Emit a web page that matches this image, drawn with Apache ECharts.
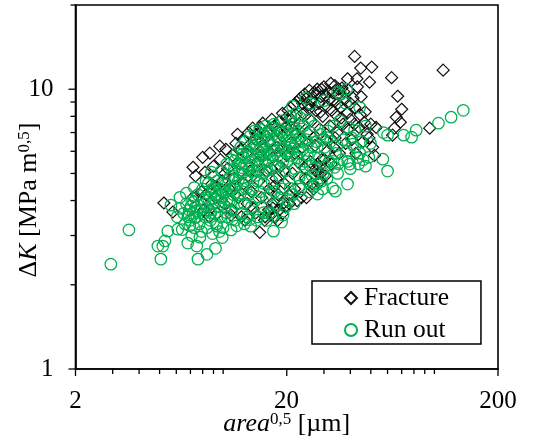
<!DOCTYPE html>
<html><head><meta charset="utf-8">
<script src="https://cdn.jsdelivr.net/npm/echarts@6/dist/echarts.min.js"></script>
<style>html,body{margin:0;padding:0;background:#fff}#c{width:538px;height:441px}</style>
</head><body><div id="c"></div>
<script>
const seriesNames = ['Fracture', 'Run out'];
const fractureOuter = [[41.9,13.1],[44.8,11.9],[50.5,12],[49.3,10.6],[62.7,11],[110,11.7],[67,9.44],[70,8.48],[66,7.94],[69,7.62],[64.7,7.26],[95,7.26],[63.4,6.85],[32.3,10.5],[38.8,10.9],[43,10.9],[27,9.75],[5.24,3.92],[5.78,3.64],[14.9,3.08],[7.2,5.26],[8.2,5.05],[8.84,4.58],[7.2,4.11],[18.1,3.4],[19.1,3.6],[17.2,3.76],[8,5.71],[8.65,5.91],[9.64,6.26],[11.7,6.9],[13.8,7.26],[15.4,7.56],[17,7.8],[19.1,8.2]];
const fractureInner = [
[7.4,4.9],[7.9,4.3],[8.1,3.7],[8.6,3.5],[9,5.3],[9.2,4.1],[9.4,3.6],[9.7,5.6],[9.9,4.7],[10.1,3.9],[10.3,6.1],[10.5,5.2],[10.7,4.4],[11,3.7],[11.1,5.8],[11.3,4.8],[11.5,6.4],[11.8,4.1],[12,5.4],[12.2,3.5],[12.4,6.6],[12.5,4.6],[12.8,5.9],[13,3.9],[13.2,7],[13.4,5.1],[13.6,4.3],[14,6.3],[14.2,3.6],[14.4,6.9],[14.6,5.5],[14.8,4.7],[15,7.3],[15.2,4.1],[15.5,6.1],[15.7,3.4],[16,5.1],[16.2,7],[16.5,4.4],[16.7,6.5],[17,3.9],[17.2,5.7],[17.5,7.4],[17.8,4.8],[18,6.2],[18.2,4.2],[18.5,7.7],[18.7,5.3],[19,6.8],[19.2,3.9],[19.5,4.6],[19.8,7.3],[20,5.8],[20.3,8.4],[20.5,4.2],[20.8,6.4],[21,7.8],[21.3,5],[21.6,8.8],[21.8,4.4],[22,6.9],[22.3,9],[22.6,5.5],[22.9,7.5],[23.2,9.3],[23.5,4.1],[23.7,6.2],[24,8.2],[24.3,9.6],[24.6,4.8],[25,7],[25.3,8.8],[25.6,9.9],[25.9,5.5],[26.2,7.7],[26.5,9.2],[26.8,4.4],[27.2,6.3],[27.5,8.4],[27.9,10],[28.2,5],[28.5,5.3],[28.7,7.2],[29,9.4],[29.3,5.6],[29.6,8],[30,10.2],[30.4,4.9],[30.7,6.6],[31,8.7],[31.5,9.8],[32,7.4],[32.5,5.4],[33,9.1],[33.4,6.2],[33.8,10.3],[34.2,8.1],[34.6,7],[35,9.6],[35.5,5.9],[36,8.6],[36.5,10.1],[37,7.5],[37.6,9.2],[38,6.4],[38.6,8.2],[39.2,9.9],[40,7.8],[40.6,6.6],[41.2,9.3],[42,8.6],[42.5,5.9],[43.2,10.2],[44,7.3],[45,9.4],[46,6.5],[47,8.3],[48,6.9],[49,6.7],[50,7.5],[51,6.2],[52,5.8],[53,7.3],[29,5],[28,5.4],[27.6,5.1],[30.2,5.6],[28.8,4.7],[15.8,3.5],[16.4,3.7],[17.7,3.5],[18.4,3.7],[19.7,3.8],[20.6,3.9],[22.4,4],[24.8,4.1],[26.4,4.6],[10.9,3.55],[12.7,3.4],[13.9,3.75]];
const fractureExtra = [[26.1,9.1],[28.4,8.9],[24.9,9.3],[33.1,9.7],[29.2,10],[31.8,9.2],[27.4,9.6],[35.2,10],[30.6,9.5],[23.8,8.9],[34.9,8.9],[37.2,9.8],[25.5,8.5],[32.6,8.4],[28.9,8.3],[22.1,8.1],[20.9,7.3],[18.9,6.1],[16.9,5.2],[15.1,5.8],[13.1,4.9],[11.4,4.2],[24.4,5.2],[21.9,5.9],[19.4,5.1],[17.4,4.5],[26.7,6.7],[23.1,6.6],[40.1,8.9],[44.6,8.1],[38.9,7.2],[46.6,7.6],[36.2,7.9],[41.8,7.5],[33.9,6.7],[31.1,6],[9.3,4.5],[10.2,5],[8.3,4.2],[12.1,6.1],[14.3,6.6],[16.1,6.8],[18.1,7.1],[19.9,7.9]];
const runOutOuter = [[137,8.41],[120,7.94],[104.5,7.56],[82,7.14],[78,6.74],[71.5,6.85],[60,6.85],[57.4,7],[57,5.62],[60,5.1],[38.8,4.58],[34,4.32],[28,4.22],[49.8,6.41],[47.2,7.38],[41.9,7.14],[44.3,8.62],[38,8.91],[34.8,9.75],[38.4,10],[24.6,9.29],[21.3,8.7],[41,6.36],[47.2,5.31],[43.8,5.4],[39.7,5.4],[48.9,5.71],[44.3,5.91],[33.7,5.26],[34.8,5],[29.2,4.69],[33,4.43],[2.94,2.37],[3.58,3.14],[5.07,2.47],[4.91,2.75],[5.18,2.75],[5.3,2.87],[5.47,3.11],[6.1,3.16],[6.8,2.82],[7.5,2.75],[7.6,2.47],[8.38,2.57],[9.2,2.7],[7.76,2.96],[6.24,4.11],[5.66,3.85],[10.9,3.14],[9.33,3.24],[13.5,3.24],[17.3,3.11],[14.4,3.4]];
const runOutInner = [
[6.5,3.6],[6.6,3.3],[6.7,3.9],[6.8,3.5],[6.9,3.7],[7,3.4],[7.1,4],[7.2,3.6],[7.3,3.2],[7.4,3.8],[7.5,3.5],[7.6,4.2],[7.7,3.3],[7.8,3.7],[7.9,3.1],[8,4.4],[8.1,3.9],[8.2,3.5],[8.3,4.1],[8.4,3.2],[8.5,4.6],[8.6,3.7],[8.7,3.4],[8.8,4.3],[8.9,3.9],[9,4.9],[9.1,3.6],[9.2,4.2],[9.3,3.3],[9.4,4.7],[9.5,3.8],[9.6,4.4],[9.7,3.5],[9.8,5.1],[9.9,4.1],[10,3.2],[10.1,4.6],[10.2,3.8],[10.3,4.3],[10.4,5.4],[10.5,3.5],[10.6,4.8],[10.7,4],[10.8,4.4],[10.9,5.6],[11,3.7],[11.1,4.9],[11.2,4.2],[11.3,5.2],[11.4,3.4],[11.5,4.5],[11.6,5.9],[11.7,3.9],[11.8,4.7],[11.9,5.4],[12,4.2],[12.1,6.2],[12.2,3.6],[12.3,5],[12.4,4.4],[12.5,5.7],[12.6,3.9],[12.7,6.5],[12.8,4.7],[12.9,5.3],[13,3.5],[13.1,6],[13.2,4.2],[13.3,5.5],[13.4,6.8],[13.5,4.9],[13.6,3.8],[13.7,5.8],[13.8,4.4],[13.9,6.3],[14,5.1],[14.1,7.1],[14.2,4],[14.3,5.6],[14.4,6.6],[14.5,4.7],[14.6,3.5],[14.7,6],[14.8,5.3],[14.9,7.2],[15,4.3],[15.1,5.8],[15.2,6.5],[15.3,3.8],[15.4,5],[15.5,6.9],[15.6,4.6],[15.7,6.2],[15.8,5.5],[15.9,7.4],[16,4.1],[16.2,5.9],[16.4,6.6],[16.5,3.6],[16.6,5.2],[16.8,7],[17,4.7],[17.1,6.3],[17.2,5.6],[17.4,7.5],[17.5,4.3],[17.7,6],[17.9,6.8],[18,3.9],[18.1,5.3],[18.3,7.2],[18.5,4.9],[18.6,6.4],[18.8,5.7],[19,7.7],[19.1,4.4],[19.3,6.1],[19.5,7],[19.6,5.1],[19.8,3.8],[20,6.6],[20.1,5.5],[20.3,7.4],[20.5,4.7],[20.7,6.2],[20.9,8],[21,5.8],[21.2,6.9],[21.4,4.2],[21.6,7.6],[21.8,5.2],[22,6.4],[22.2,8.2],[22.4,5.7],[22.6,7.1],[22.8,4.5],[23,6.7],[23.2,7.9],[23.5,5.4],[23.8,6.1],[24,7.4],[24.4,4.8],[24.7,6.6],[25,5.8],[25.3,7.8],[25.6,4.3],[25.9,7],[26.2,6.2],[26.8,5.2],[27.1,7.4],[27.5,6.5],[27.9,4.6],[28.6,5.7],[29,6.9],[29.8,5],[30.2,6.2],[31.2,7.1],[31.7,5.5],[32.2,6.5],[33.4,7.4],[34,5.9],[34.6,6.3],[35.8,7.7],[36.5,5.6],[37,6.6],[38.5,6],[39.2,7.3],[40,5.2],[42,6.2],[43,5.7],[45,6.5],[46,5.6],[26,8.9],[30,9.1],[36,9.6],[18.6,4.1],[20.4,4],[21.7,3.9],[23.3,4.4],[25.2,4.7],[27,4.5],[29.6,4.4],[31,4.8],[19.2,3.55],[16.1,3.4],[11.6,3.25],[12.6,3.3],[8.9,3.05],[9.9,2.95],[9.6,3.1],[7.1,3],[6.4,3.15],[6.05,3.5],[6.2,3.75],[6.7,4.25],[7.3,4.45],[8.3,4.7],[8.8,5.05],[18.9,3.35]];
const runOutExtra = [[6.9,3.55],[7.05,3.82],[7.35,3.48],[6.95,3.25],[7.55,3.68],[7.25,3.95],[8.05,3.58],[8.35,3.78],[8.55,4.02],[8.75,3.62],[9.05,4.08],[8.95,4.42],[9.45,4.18],[9.65,3.98],[9.85,4.32],[10.25,4.55],[10.45,4.02],[10.35,3.62],[10.95,3.98],[11.25,4.45],[11.45,4.78],[11.85,5.05],[11.35,5.55],[12.25,5.25],[12.85,4.42],[12.35,5.85],[13.25,5.18],[13.65,5.35],[13.15,5.72],[14.25,4.92],[14.65,5.12],[14.35,6.18],[15.05,6.12],[15.45,5.82],[15.85,5.12],[15.35,6.88],[16.3,5.52],[16.75,5.82],[16.35,7.08],[17.25,6.08],[17.65,5.32],[17.05,7.28],[18.25,6.62],[18.65,7.02],[19.15,5.52],[19.55,6.28],[19.95,5.92],[20.45,6.02],[20.85,6.52],[21.35,6.12],[21.75,7.22],[22.25,6.82],[22.95,5.92],[23.55,6.52],[24.45,5.52],[25.15,6.42],[25.85,5.32],[27.05,5.72],[27.85,6.22],[29.65,6.62],[31.05,6.72],[33.15,5.52],[35.05,5.42],[38.85,5.52],[40.45,6.72],[22.85,4.82],[26.35,4.92],[30.55,5.32],[17.15,3.52],[15.55,3.62],[13.35,3.42],[11.05,3.42],[14.75,4.12],[16.85,4.22],[20.75,4.42]];
const yMajorTicks = [1, 10];
const yMinorTicks = [2, 3, 4, 5, 6, 7, 8, 9, 20];
const xMajorTicks = [2, 20, 200];
const xMinorTicks = [3, 4, 5, 6, 7, 8, 9, 10, 30, 40, 50, 60, 70, 80, 90, 100];
const xLabels = ['2', '20', '200'];
const yLabels = ['1', '10'];

const FONT = '"Liberation Serif","Times New Roman",serif';
const GREEN = '#00b050';
const fracture = fractureOuter.concat(fractureInner, fractureExtra);
const runOut = runOutOuter.concat(runOutInner, runOutExtra);

function tickSeries(values, axis, len) {
  const w = 1.3;
  return {
    name: seriesNames[0],
    type: 'scatter', silent: true, clip: false, z: 5, symbol: 'rect',
    symbolSize: axis === 'x' ? [w, len] : [len, w],
    symbolOffset: axis === 'x' ? [0, len / 2] : [-len / 2, 0],
    itemStyle: {color: '#000', opacity: 1},
    data: values.map(v => axis === 'x' ? [v, 1] : [2, v])
  };
}

const chart = echarts.init(document.getElementById('c'), null, {renderer: 'canvas'});
chart.setOption({
  animation: false,
  backgroundColor: '#fff',
  grid: {left: 75.5, right: 40, top: 5, bottom: 72, outerBoundsMode: 'none', show: true, borderColor: '#000', borderWidth: 1.6, backgroundColor: 'transparent'},
  xAxis: {
    type: 'log', logBase: 10, min: 2, max: 200, interval: 1,
    splitLine: {show: false}, axisTick: {show: false}, minorTick: {show: false},
    axisLine: {show: true, lineStyle: {color: '#000', width: 1.6}},
    axisLabel: {color: '#000', fontFamily: FONT, fontSize: 25, margin: 20, showMinLabel: true, showMaxLabel: true,
      formatter: v => xLabels.includes(String(Math.round(v))) ? String(Math.round(v)) : ''},
    name: '{i|area}{s|0,5}{n| [µm]}', nameLocation: 'middle', nameGap: 42, nameMoveOverlap: false,
    nameTextStyle: {color: '#000', fontFamily: FONT, fontSize: 26, rich: {
      i: {fontFamily: FONT, fontSize: 26, fontStyle: 'italic', color: '#000'},
      s: {fontFamily: FONT, fontSize: 17, color: '#000', verticalAlign: 'top', padding: [0, 0, 8, 0]},
      n: {fontFamily: FONT, fontSize: 26, color: '#000'}
    }}
  },
  yAxis: {
    type: 'log', logBase: 10, min: 1, max: 20, interval: 1,
    splitLine: {show: false}, axisTick: {show: false}, minorTick: {show: false},
    axisLine: {show: true, lineStyle: {color: '#000', width: 1.6}},
    axisLabel: {color: '#000', fontFamily: FONT, fontSize: 25, margin: 22,
      formatter: v => yLabels.includes(String(Math.round(v))) ? String(Math.round(v)) : ''}
  },
  legend: {
    data: [{name: seriesNames[0], icon: 'diamond'}, {name: seriesNames[1], icon: 'circle'}],
    orient: 'vertical', left: 312, top: 281,
    padding: [4, 32, 1, 32], itemGap: 6, itemWidth: 12, itemHeight: 12,
    borderColor: '#000', borderWidth: 1.5, backgroundColor: '#fff',
    textStyle: {color: '#000', fontFamily: FONT, fontSize: 25.5, padding: [0, 0, 0, 2]}
  },
  graphic: [{
    type: 'text', x: 29, y: 200, rotation: Math.PI / 2, z: 10,
    style: {
      text: '{a|Δ}{i|K}{n| [MPa m}{s|0,5}{n|]}', align: 'center', verticalAlign: 'middle',
      fontFamily: FONT, fontSize: 26, fill: '#000',
      rich: {
        a: {fontFamily: FONT, fontSize: 26, fill: '#000'},
        i: {fontFamily: FONT, fontSize: 26, fontStyle: 'italic', fill: '#000'},
        n: {fontFamily: FONT, fontSize: 26, fill: '#000'},
        s: {fontFamily: FONT, fontSize: 17, fill: '#000', verticalAlign: 'top', padding: [0, 0, 8, 0]}
      }
    }
  }],
  series: [
    {name: seriesNames[0], type: 'scatter', data: fracture, symbol: 'diamond', symbolSize: 12, z: 2,
     itemStyle: {color: 'transparent', borderColor: '#111', borderWidth: 1.2, opacity: 1}},
    {name: seriesNames[1], type: 'scatter', data: runOut, symbol: 'circle', symbolSize: 11.5, z: 3,
     itemStyle: {color: 'transparent', borderColor: GREEN, borderWidth: 1.25, opacity: 1}},
    tickSeries(xMajorTicks, 'x', 7),
    tickSeries(xMinorTicks, 'x', 5),
    tickSeries(yMajorTicks, 'y', 7),
    tickSeries(yMinorTicks, 'y', 5)
  ]
});
</script></body></html>
